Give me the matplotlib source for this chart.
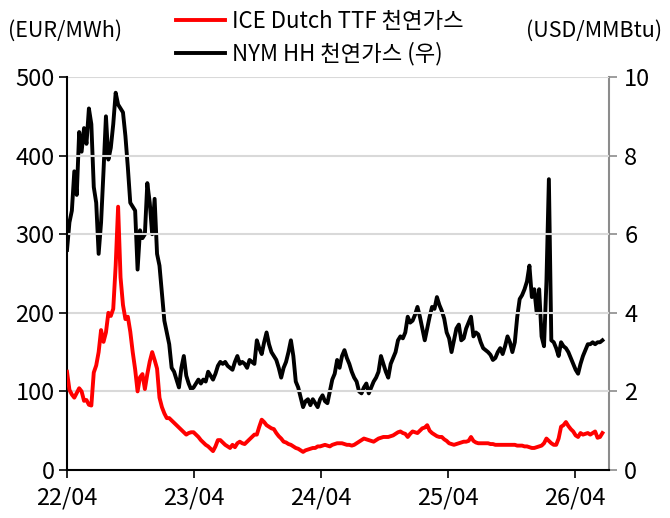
import matplotlib
matplotlib.use("Agg")
import matplotlib.pyplot as plt
import matplotlib.dates as mdates
import pandas as pd

plt.rcParams["font.family"] = ["Noto Sans CJK KR", "DejaVu Sans"]

# weekly samples, starting 2022-04-01
START = "2022-04-01"

# ICE Dutch TTF, EUR/MWh (left axis)
ttf = [
    125, 102, 96, 92, 98, 104, 100, 88, 89, 83,
    82, 124, 133, 150, 178, 163, 175, 200, 196, 205,
    260, 335, 245, 210, 192, 195, 176, 150, 128, 100,
    118, 122, 103, 122, 138, 150, 140, 129, 92, 80,
    72, 66, 66, 63, 60, 57, 54, 51, 48, 45,
    47, 48, 48, 45, 42, 38, 35, 32, 30, 27,
    24, 30, 38, 38, 35, 32, 30, 28, 32, 29,
    34, 36, 34, 33, 36, 39, 42, 45, 45, 55,
    64, 61, 57, 55, 53, 52, 47, 43, 40, 36,
    35, 33, 32, 30, 28, 27, 25, 23, 25, 26,
    27, 28, 28, 30, 30, 31, 32, 31, 30, 32,
    33, 34, 34, 34, 33, 32, 32, 31, 32, 34,
    36, 38, 40, 39, 38, 37, 36, 38, 40, 41,
    42, 42, 42, 43, 44, 46, 48, 49, 47, 46,
    42, 46, 49, 48, 47, 50, 53, 54, 57, 50,
    47, 45, 43, 42, 42, 39, 37, 34, 33, 32,
    33, 34, 35, 36, 36, 37, 42, 37, 35, 34,
    34, 34, 34, 34, 33, 33, 32, 32, 32, 32,
    32, 32, 32, 32, 32, 31, 31, 31, 30, 30,
    29, 28, 28, 29, 30, 31, 34, 40, 37, 34,
    32, 32, 40, 55, 57, 61, 56, 52, 49, 44,
    42, 47, 45, 46, 47, 45, 47, 49, 41, 42,
    47,
]

# NYMEX Henry Hub, USD/MMBtu (right axis)
hh = [
    5.6, 6.3, 6.6, 7.6, 7.0, 8.6, 8.1, 8.7, 8.3, 9.2,
    8.8, 7.2, 6.8, 5.5, 6.3, 7.6, 9.0, 7.9, 8.2, 8.8,
    9.6, 9.3, 9.2, 9.1, 8.5, 7.7, 6.8, 6.7, 6.6, 5.1,
    6.1, 5.9, 6.0, 7.3, 6.8, 6.0, 6.9, 5.5, 5.2, 4.5,
    3.8, 3.5, 3.2, 2.6, 2.5, 2.3, 2.1, 2.6, 2.9, 2.4,
    2.2, 2.05, 2.1, 2.2, 2.3, 2.2, 2.3, 2.25, 2.5, 2.4,
    2.3, 2.45, 2.65, 2.75, 2.7, 2.75, 2.65, 2.6, 2.55, 2.75,
    2.9, 2.7, 2.75, 2.7, 2.6, 2.8, 2.75, 2.7, 3.3, 3.1,
    2.95, 3.25, 3.5, 3.2, 3.0, 2.9, 2.8, 2.6, 2.35, 2.6,
    2.75, 3.0, 3.3, 2.9, 2.25, 2.1, 1.85, 1.6, 1.75, 1.8,
    1.65, 1.8, 1.7, 1.6, 1.8, 1.9, 1.75, 1.7, 2.0, 2.3,
    2.45, 2.8, 2.6, 2.9, 3.05, 2.85, 2.7, 2.5, 2.35, 2.25,
    2.0, 1.95, 2.1, 2.2, 1.95, 2.1, 2.25, 2.35, 2.5, 2.9,
    2.7, 2.5, 2.35, 2.7, 2.85, 3.0, 3.3, 3.4, 3.35, 3.5,
    3.9, 3.75, 3.8, 3.95, 4.15, 3.9, 3.6, 3.3, 3.6, 3.9,
    4.15, 4.1, 4.4, 4.2, 4.05, 3.85, 3.5, 3.35, 3.0, 3.3,
    3.6, 3.7, 3.3, 3.35, 3.6, 3.75, 3.9, 3.4, 3.5, 3.45,
    3.25, 3.1, 3.05, 3.0, 2.93, 2.8, 2.85, 3.0, 3.1, 2.95,
    3.15, 3.4, 3.25, 3.0, 3.25, 3.9, 4.35, 4.45, 4.6, 4.8,
    5.2, 4.4, 4.6, 4.0, 4.6, 3.4, 3.15, 4.8, 7.4, 3.3,
    3.25, 3.1, 2.9, 3.25, 3.15, 3.1, 3.0, 2.85, 2.7, 2.55,
    2.45, 2.7, 2.9, 3.05, 3.2, 3.2, 3.25, 3.2, 3.25, 3.25,
    3.3,
]

year_ticks = ["2022-04-01", "2023-04-01", "2024-04-01", "2025-04-01", "2026-04-01"]

dates = pd.date_range(START, periods=len(ttf), freq="7D")

fig = plt.figure(figsize=(6.7, 5.18), dpi=100)
ax = fig.add_axes([0.1, 0.0927, 0.809, 0.7586])
ax2 = ax.twinx()

grid_c = "#d9d9d9"
for v in [100, 200, 300, 400, 500]:
    ax.axhline(v, color=grid_c, lw=1.5, zorder=0)

l1, = ax.plot(dates, ttf, color="#ff0000", lw=2.8, zorder=3,
              label="ICE Dutch TTF 천연가스")
l2, = ax2.plot(dates, hh, color="black", lw=2.8, zorder=3,
               label="NYM HH 천연가스 (우)")
ax.set_zorder(2)
ax.patch.set_visible(False)
ax2.set_zorder(1)

ax.set_ylim(0, 500)
ax2.set_ylim(0, 10)
ax.set_yticks(range(0, 501, 100))
ax2.set_yticks(range(0, 11, 2))
ax.set_xlim(pd.Timestamp("2022-04-01"), pd.Timestamp("2026-07-08"))
ax.set_xticks(pd.to_datetime(year_ticks))
ax.xaxis.set_major_formatter(mdates.DateFormatter("%y/%m"))

for a in (ax, ax2):
    a.spines["top"].set_visible(False)
ax.spines["left"].set_color("black")
ax.spines["left"].set_linewidth(1.5)
ax.spines["bottom"].set_linewidth(1.5)
ax.spines["right"].set_visible(False)
ax2.spines["left"].set_visible(False)
ax2.spines["bottom"].set_visible(False)
ax2.spines["right"].set_color("#8c8c8c")
ax2.spines["right"].set_linewidth(1.5)

ax.tick_params(axis="y", direction="out", length=6, width=1.2, labelsize=17, pad=3)
ax.tick_params(axis="x", direction="out", length=6, width=1.2, labelsize=17, pad=6)
ax2.tick_params(axis="y", direction="out", length=6, width=1.2, color="#8c8c8c",
                labelsize=17, pad=5)

fig.text(0.012, 0.94, "(EUR/MWh)", fontsize=15.5, ha="left", va="center")
fig.text(0.988, 0.94, "(USD/MMBtu)", fontsize=15.5, ha="right", va="center")

fig.legend(handles=[l1, l2], loc="upper left", bbox_to_anchor=(0.25, 0.998),
           frameon=False, fontsize=16, handlelength=2.2, handletextpad=0.3,
           labelspacing=0.4, borderaxespad=0)

fig.savefig("out.png", dpi=100)
